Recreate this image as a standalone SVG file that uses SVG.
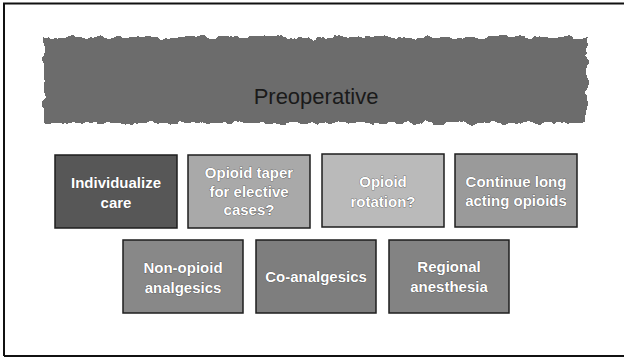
<svg xmlns="http://www.w3.org/2000/svg" width="624" height="358" viewBox="0 0 624 358">
  <style>
    .box { stroke: #1e1e1e; stroke-width: 1.5; }
    .lbl { font-family: "Liberation Sans", Arial, sans-serif; font-size: 15px; font-weight: bold; fill: #ffffff; text-anchor: middle; stroke: #3a3a3a; stroke-width: 0.6; paint-order: stroke; }
    .title { font-family: "Liberation Sans", Arial, sans-serif; font-size: 22px; fill: #1a1a1a; text-anchor: middle; }
  </style>
  <defs>
    <filter id="rough" x="-5%" y="-15%" width="110%" height="130%">
      <feTurbulence type="fractalNoise" baseFrequency="0.09" numOctaves="3" seed="4" result="n"/>
      <feDisplacementMap in="SourceGraphic" in2="n" scale="9" xChannelSelector="R" yChannelSelector="G"/>
    </filter>
  </defs>
  <rect x="0" y="0" width="624" height="358" fill="#ffffff"/>
  <path d="M4 356 V3.5 H624 M4 356 H624" fill="none" stroke="#111" stroke-width="2"/>

  <g id="banner">
    <rect x="44" y="37" width="543" height="86" fill="#6c6c6c" filter="url(#rough)"/>
    <text class="title" x="316" y="104">Preoperative</text>
  </g>

  <g id="individualize">
    <rect class="box" x="55" y="155" width="122" height="73" fill="#575757"/>
    <text class="lbl" x="116" y="188">Individualize</text>
    <text class="lbl" x="116" y="208">care</text>
  </g>
  <g id="taper">
    <rect class="box" x="188" y="155" width="122" height="73" fill="#a9a9a9"/>
    <text class="lbl" x="249" y="178">Opioid taper</text>
    <text class="lbl" x="249" y="197">for elective</text>
    <text class="lbl" x="249" y="215">cases?</text>
  </g>
  <g id="rotation">
    <rect class="box" x="322" y="154" width="122" height="73" fill="#bababa"/>
    <text class="lbl" x="383" y="187">Opioid</text>
    <text class="lbl" x="383" y="207">rotation?</text>
  </g>
  <g id="continue">
    <rect class="box" x="455" y="154" width="122" height="73" fill="#9a9a9a"/>
    <text class="lbl" x="516" y="187">Continue long</text>
    <text class="lbl" x="516" y="206">acting opioids</text>
  </g>
  <g id="nonopioid">
    <rect class="box" x="123" y="240" width="120" height="73" fill="#888888"/>
    <text class="lbl" x="183" y="273">Non-opioid</text>
    <text class="lbl" x="183" y="293">analgesics</text>
  </g>
  <g id="coanalgesics">
    <rect class="box" x="256" y="240" width="120" height="73" fill="#7e7e7e"/>
    <text class="lbl" x="316" y="282">Co-analgesics</text>
  </g>
  <g id="regional">
    <rect class="box" x="389" y="240" width="120" height="73" fill="#838383"/>
    <text class="lbl" x="449" y="272">Regional</text>
    <text class="lbl" x="449" y="292">anesthesia</text>
  </g>
  <g id="connectors"></g>
</svg>
